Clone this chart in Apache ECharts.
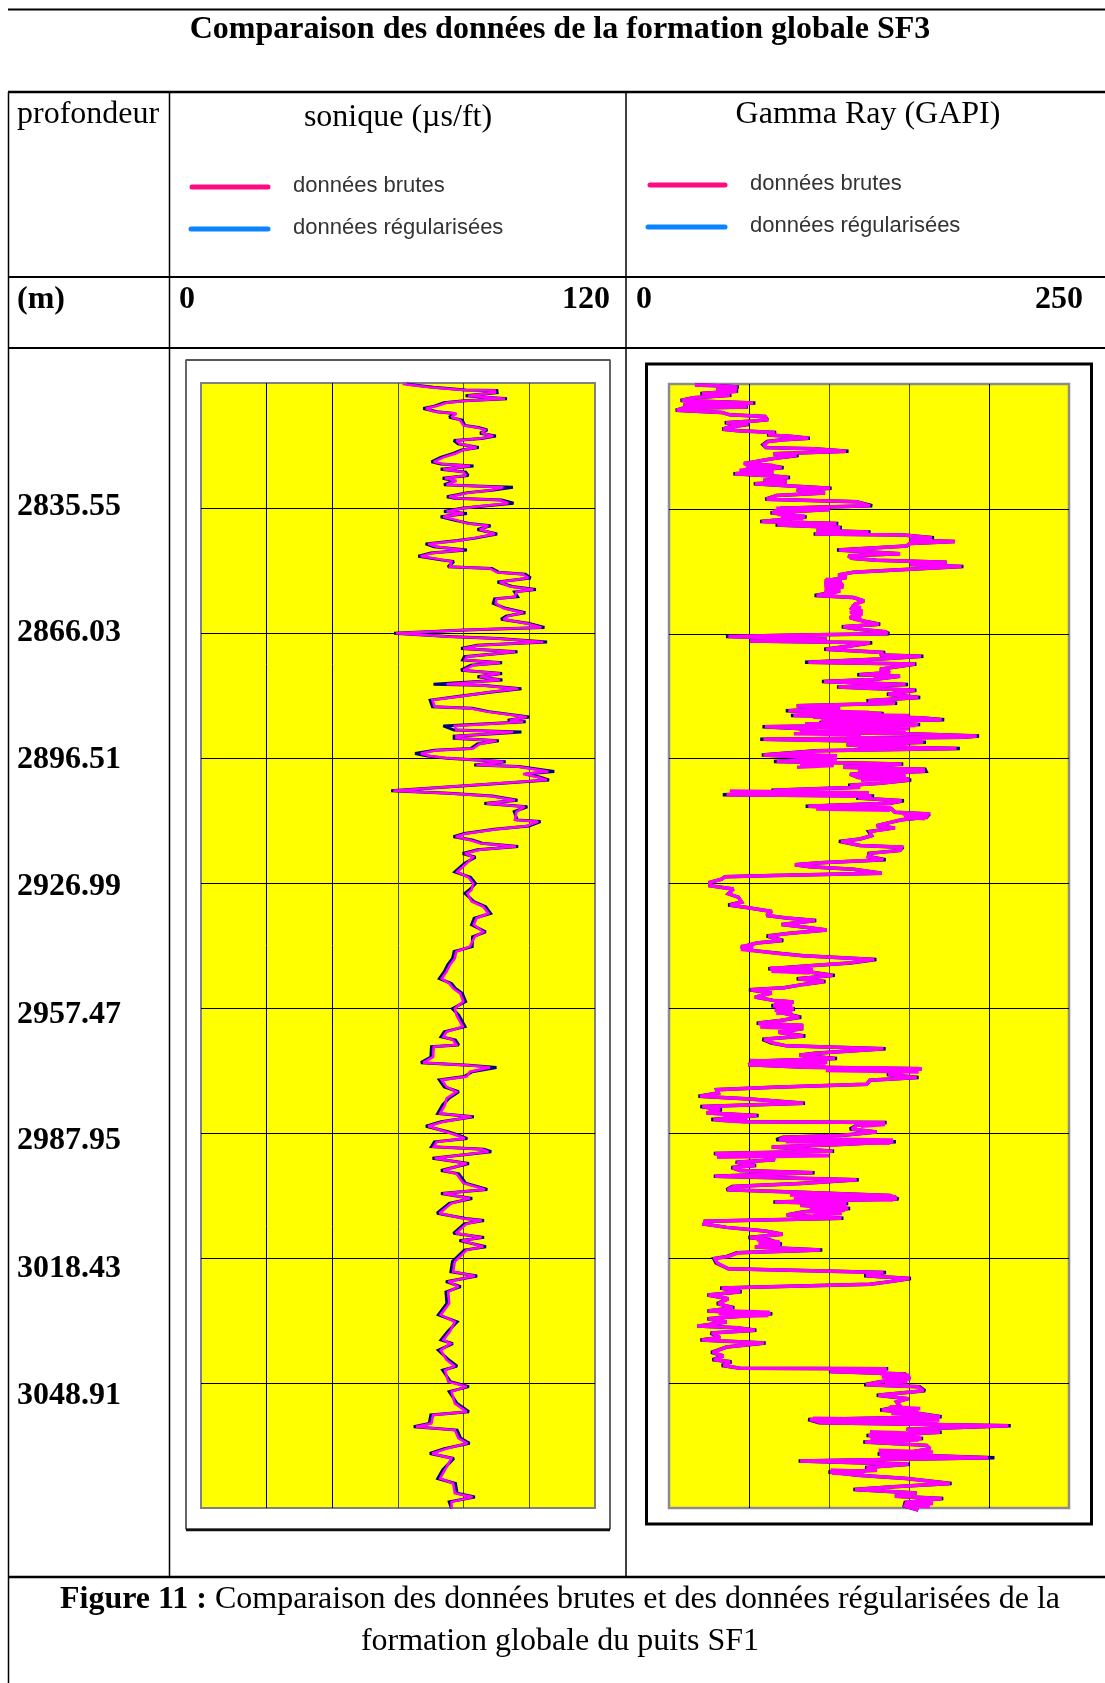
<!DOCTYPE html>
<html><head><meta charset="utf-8">
<style>html,body{margin:0;padding:0;background:#fff}#c{width:1105px;height:1683px}</style>
<script src="https://cdn.jsdelivr.net/npm/echarts@6/dist/echarts.min.js"></script>
</head><body><div id="c"></div>
<script>
const titleText = 'Comparaison des données de la formation globale SF3';
const depthTickLabels = ['2835.55','2866.03','2896.51','2926.99','2957.47','2987.95','3018.43','3048.91'];
const depthMin = 2805.07, depthMax = 3079.39, depthStep = 30.48;
const sonicMax = 120, sonicStep = 20, gammaMax = 250, gammaStep = 50;

const sonicDepth = [
2805.3,2805.6,2806.1,2806.8,2806.9,2807.4,2808.2,2808.9,2809.4,2809.9,
2810.7,2811.3,2812.1,2812.5,2813.4,2814.1,2815.4,2815.9,2816.5,2817.3,
2818.0,2818.6,2819.1,2819.9,2820.8,2821.4,2822.2,2823.2,2824.3,2824.8,
2825.3,2826.1,2826.8,2827.6,2828.3,2828.9,2829.9,2830.2,2830.5,2831.2,
2831.8,2832.8,2833.2,2833.6,2834.4,2835.1,2835.6,2836.4,2836.9,2837.7,
2838.5,2839.3,2839.9,2840.8,2841.9,2842.9,2843.5,2844.3,2845.0,2845.8,
2846.5,2847.3,2848.2,2848.6,2849.9,2850.3,2851.2,2851.7,2852.6,2853.6,
2854.7,2855.4,2856.0,2857.2,2857.7,2858.8,2860.0,2861.1,2861.9,2862.7,
2863.7,2864.7,2865.3,2866.1,2866.9,2867.4,2868.2,2869.0,2869.8,2870.6,
2871.8,2872.6,2873.3,2873.9,2875.1,2875.9,2876.7,2877.5,2878.5,2878.8,
2879.6,2880.4,2881.4,2882.4,2884.0,2884.4,2885.2,2886.5,2887.3,2887.7,
2888.7,2889.7,2890.2,2891.2,2891.7,2892.3,2893.1,2894.2,2894.6,2895.4,
2896.0,2896.6,2897.4,2898.2,2898.6,2899.8,2900.4,2901.2,2901.9,2902.7,
2904.5,2905.1,2905.8,2906.8,2907.6,2908.4,2909.6,2911.6,2912.0,2913.1,
2913.9,2914.9,2915.7,2916.5,2917.3,2918.1,2918.9,2919.8,2920.7,2922.2,
2924.3,2925.6,2927.1,2928.7,2929.5,2931.5,2932.8,2934.4,2935.6,2937.2,
2938.9,2940.1,2942.5,2943.7,2945.4,2947.0,2948.6,2950.3,2951.5,2952.7,
2953.9,2955.9,2957.6,2959.2,2962.0,2963.3,2964.5,2965.3,2966.5,2966.9,
2969.4,2970.8,2971.4,2972.0,2973.0,2974.2,2975.0,2976.7,2977.9,2979.5,
2981.1,2983.2,2984.0,2985.2,2986.3,2987.7,2988.5,2989.3,2990.1,2991.3,
2991.9,2992.5,2994.1,2995.4,2997.1,2997.9,3000.2,3001.7,3002.7,3003.9,
3005.1,3007.5,3008.8,3009.3,3010.1,3012.4,3013.4,3014.2,3015.7,3016.5,
3019.3,3021.8,3022.8,3024.2,3025.4,3026.7,3029.5,3032.3,3034.0,3036.4,
3038.4,3039.3,3040.9,3043.3,3044.8,3045.8,3048.6,3049.8,3051.0,3053.9,
3055.9,3056.7,3058.8,3059.6,3060.4,3062.4,3063.6,3064.9,3066.1,3067.3,
3070.1,3072.2,3073.4,3075.8,3076.7,3077.9,3079.5];
const sonicRaw = [
61.4,64.7,69.7,79.9,89.5,89.5,81.4,92.6,80.9,74.8,
71.8,68.5,71.2,77.8,76.3,78.9,79.9,83.9,86.5,85.5,
89.0,84.9,77.8,78.9,83.9,79.9,77.8,73.8,70.9,73.8,
81.9,73.8,79.9,80.7,74.3,77.8,74.8,82.9,92.1,88.0,
81.9,75.6,77.8,91.0,93.6,84.9,79.9,74.8,79.9,73.8,
77.8,80.9,87.5,84.9,89.5,82.9,78.9,69.2,71.8,79.9,
70.7,66.9,73.8,76.3,75.8,88.0,90.0,98.1,99.7,91.0,
94.1,101.2,96.1,95.6,90.0,89.8,92.1,98.1,93.6,92.1,
99.2,103.7,79.9,59.4,74.8,90.0,104.2,84.9,79.9,95.6,
80.9,80.4,91.0,82.9,79.9,91.0,84.9,91.0,74.8,84.9,
96.6,88.0,79.9,70.5,71.2,81.9,87.0,99.2,94.1,98.1,
77.3,77.8,95.1,77.8,77.8,90.0,84.9,82.9,71.8,67.0,
69.7,75.8,92.1,83.9,96.1,105.8,98.1,102.7,105.3,90.0,
58.6,74.8,88.0,95.6,87.0,98.6,96.1,95.6,102.7,99.2,
90.0,80.9,77.6,81.9,84.9,95.9,84.9,80.4,82.9,80.9,
78.0,81.4,82.9,82.4,81.1,82.4,86.0,87.5,83.9,83.1,
86.0,83.4,81.9,77.8,77.3,75.8,74.8,73.3,75.6,76.8,
78.9,79.9,77.3,77.8,79.7,74.8,73.8,76.8,77.8,70.9,
70.7,67.7,80.9,88.0,81.9,80.9,73.3,74.8,77.8,74.8,
74.3,72.8,82.4,73.8,69.2,74.8,77.8,80.4,71.8,70.9,
85.5,87.5,71.2,80.9,73.8,77.8,79.9,86.5,73.8,81.9,
76.3,72.6,79.9,85.5,80.9,77.6,85.5,79.4,86.0,80.9,
77.3,76.8,83.4,75.3,78.4,75.3,75.6,73.0,77.3,75.8,
73.8,76.0,73.0,74.8,77.3,74.3,75.3,80.9,76.3,77.3,
80.9,70.7,70.2,65.5,77.3,78.4,81.1,74.8,70.4,76.3,
74.3,72.8,76.8,77.3,82.7,76.3,76.3];
const sonicReg = [
62.6,65.5,70.8,80.6,90.1,90.2,80.6,93.2,80.2,74.0,
71.0,67.7,71.9,77.2,75.6,79.5,80.4,84.5,87.2,85.0,
89.8,85.5,77.0,78.3,84.6,79.4,77.0,73.0,70.2,73.0,
83.0,73.0,80.6,81.4,73.6,77.2,74.0,83.5,95.0,88.6,
81.2,74.9,77.2,91.6,95.2,85.5,79.4,74.0,81.0,73.0,
77.0,81.6,88.2,84.2,90.2,83.5,78.2,68.4,71.0,81.0,
70.0,66.2,73.0,77.0,75.2,88.6,90.6,98.8,100.4,90.3,
94.8,102.0,95.5,96.4,89.4,89.0,92.8,98.8,92.9,91.4,
99.9,104.6,80.6,58.8,75.4,90.6,105.4,84.2,79.2,96.4,
80.2,79.7,91.7,82.2,79.2,91.7,84.2,91.8,70.8,85.5,
97.6,88.7,79.2,69.8,70.5,82.6,87.7,100.0,93.4,98.9,
73.8,77.1,97.6,77.1,77.1,90.7,84.2,82.2,71.1,65.2,
69.0,75.1,92.8,83.2,96.8,107.6,98.8,103.4,106.0,90.7,
57.9,75.5,88.7,96.4,86.3,99.4,95.4,96.3,103.4,99.9,
89.3,80.2,76.9,82.6,85.6,96.6,84.2,79.7,83.6,80.2,
77.3,82.1,83.6,81.7,80.4,83.1,86.7,88.2,83.2,82.4,
86.7,82.7,82.6,77.1,76.6,75.1,74.1,72.6,76.3,77.5,
79.6,80.6,76.6,78.5,80.4,74.1,73.1,77.5,78.5,70.2,
70.0,67.0,81.6,90.0,82.6,80.2,72.6,74.1,78.5,75.5,
73.6,72.1,83.1,73.1,68.5,75.5,78.5,81.1,71.1,70.2,
86.2,88.4,70.5,81.6,73.1,78.5,80.6,87.2,73.1,82.6,
75.6,71.9,80.6,86.2,80.2,76.9,86.2,78.7,86.8,80.2,
76.6,76.1,84.1,74.6,79.1,74.6,74.9,72.3,78.0,75.1,
73.1,76.7,72.3,75.5,78.0,73.6,76.0,81.6,75.6,78.0,
81.6,70.0,69.5,64.8,78.0,79.1,81.8,74.1,69.7,77.0,
73.6,72.1,77.5,78.0,83.4,75.6,76.3];

const gammaDepth = [
2805.3,2805.5,2805.8,2806.4,2806.8,2807.4,2807.8,2808.4,2809.1,2809.7,
2810.2,2810.7,2811.0,2811.5,2812.0,2812.6,2813.0,2813.8,2814.1,2814.5,
2814.9,2815.6,2816.1,2816.5,2816.9,2817.5,2817.8,2818.3,2818.7,2819.1,
2819.9,2820.6,2820.9,2821.5,2822.1,2822.5,2823.2,2823.7,2824.5,2825.0,
2825.5,2826.1,2826.6,2827.0,2827.5,2827.9,2828.6,2829.0,2829.4,2829.9,
2830.5,2831.0,2831.7,2832.3,2833.2,2833.8,2834.8,2835.4,2835.7,2836.5,
2837.0,2837.5,2838.2,2838.6,2839.1,2839.5,2840.1,2840.8,2841.2,2841.7,
2841.9,2842.6,2843.2,2843.5,2844.0,2844.6,2845.6,2846.5,2847.0,2847.6,
2848.1,2848.6,2849.1,2849.6,2850.4,2851.0,2851.7,2852.3,2853.1,2854.3,
2855.2,2855.6,2856.7,2857.2,2858.0,2858.8,2859.8,2860.8,2862.1,2862.9,
2863.7,2864.3,2864.9,2865.5,2866.0,2866.3,2866.7,2867.3,2867.8,2868.2,
2869.0,2869.8,2870.6,2871.2,2871.5,2872.2,2873.0,2873.4,2874.1,2874.7,
2875.5,2876.0,2876.4,2877.2,2877.7,2878.4,2879.0,2879.8,2880.8,2881.6,
2882.4,2883.0,2883.6,2884.2,2884.8,2885.5,2886.0,2886.5,2887.0,2887.7,
2888.2,2888.7,2889.4,2890.0,2890.5,2891.0,2891.3,2891.8,2892.5,2893.1,
2893.6,2894.0,2894.6,2895.6,2896.4,2897.2,2897.8,2898.6,2899.1,
2899.6,2900.3,2901.1,2901.7,2902.5,2903.0,2903.5,2904.2,2904.7,2905.3,
2905.6,2906.1,2906.8,2907.4,2908.1,2908.8,2909.6,2910.0,2910.8,2911.4,
2912.0,2912.9,2913.4,2914.3,2915.3,2916.1,2916.7,2917.7,2918.1,2918.9,
2919.6,2920.4,2921.2,2921.9,2922.4,2922.9,2923.5,2924.5,2925.0,2925.3,
2925.9,2926.7,2927.5,2928.3,2929.5,2930.3,2931.5,2932.2,2932.9,2933.8,
2934.8,2935.4,2936.0,2937.0,2937.6,2938.3,2939.1,2939.8,2940.9,2941.5,
2942.5,2943.3,2944.0,2944.6,2945.5,2946.4,2947.0,2947.8,2948.7,2949.4,
2950.2,2950.9,2951.6,2952.4,2952.9,2953.7,2954.7,2955.5,2955.9,2956.8,
2957.6,2958.4,2959.6,2960.4,2961.1,2961.6,2962.4,2963.3,2964.2,2965.0,
2965.9,2966.6,2967.3,2968.4,2968.9,2969.7,2970.3,2971.2,2971.8,2972.2,
2973.0,2973.6,2974.3,2975.0,2976.0,2976.7,2977.3,2978.1,2978.9,2979.6,
2980.6,2981.4,2982.2,2983.0,2983.6,2984.6,2985.1,2985.3,2986.0,2986.9,
2987.6,2988.5,2988.9,2989.5,2990.0,2990.7,2991.3,
2992.3,2992.9,2993.6,2994.4,2995.0,2995.8,2996.3,2997.0,2997.6,2998.4,
2999.3,3000.2,3000.9,3001.7,3002.3,3003.1,3004.0,3004.7,3005.1,3005.5,
3006.3,3007.1,3007.9,3008.7,3009.4,3010.1,3010.9,3011.8,3012.6,3013.4,
3014.0,3015.0,3015.7,3016.4,3017.1,3018.0,3018.5,3019.6,3021.0,3021.9,
3022.7,3023.4,3024.2,3024.8,3025.7,3026.6,3027.4,3028.3,3029.5,3030.5,
3031.3,3032.0,3033.2,3034.0,3035.0,3035.4,3036.0,3036.7,3037.8,3038.4,
3039.1,3040.1,3041.4,3042.3,3043.2,3043.7,3044.6,3045.3,3045.4,3046.1,
3046.7,3047.8,3048.6,3049.3,3049.8,3050.8,3051.9,3052.7,3053.5,3054.5,
3055.5,3056.3,3057.1,3057.8,3058.6,3059.3,3060.2,3060.9,3061.7,3062.4,
3063.3,3064.1,3064.9,3065.7,3066.2,3067.1,3067.9,3068.7,3069.5,3070.2,
3070.6,3071.4,3072.2,3073.4,3074.2,3074.9,3075.7,3076.5,3077.1,3078.0,
3078.9,3079.9];
const gammaRaw = [
16.2,30.8,42.7,29.8,42.3,20.6,38.1,15.2,7.9,52.7,
9.0,48.5,8.5,4.8,32.9,38.1,60.0,61.0,52.7,35.6,
49.6,37.1,34.0,43.3,66.2,62.1,75.6,87.1,71.4,62.1,
59.4,60.6,90.2,110.6,65.2,79.8,66.2,59.0,46.9,64.2,
70.4,46.5,65.2,41.2,65.2,74.6,59.0,73.5,53.7,73.5,
100.6,79.8,97.5,67.3,61.0,117.3,125.6,69.4,100.6,64.2,
74.6,85.0,69.4,57.9,104.8,67.7,106.9,92.3,124.6,91.3,
146.4,164.2,150.6,178.7,150.6,148.5,106.2,144.4,112.1,114.2,
129.8,173.5,150.6,182.9,144.4,115.2,105.8,111.0,97.5,108.9,
97.5,106.9,92.3,115.2,121.9,116.2,114.2,120.4,113.1,121.4,
131.0,108.9,118.3,135.0,136.4,81.9,37.1,98.5,50.6,125.6,
113.1,98.1,133.9,131.9,157.5,131.9,87.1,153.7,142.3,131.9,
138.1,119.0,144.4,127.7,96.9,147.9,105.8,153.7,137.1,155.8,
124.6,141.2,79.8,106.9,74.6,132.9,77.7,156.9,170.4,95.4,
155.8,60.0,92.3,81.9,154.8,192.3,184.0,59.0,158.9,111.0,
127.7,179.7,93.3,59.0,100.6,67.3,145.4,108.9,158.9,
158.9,113.1,118.3,150.2,131.9,113.1,119.4,65.2,75.2,36.0,
126.6,118.3,145.4,138.1,87.1,139.1,141.2,162.0,161.0,145.4,
139.1,129.8,141.2,125.6,126.6,119.4,107.5,119.4,145.4,144.4,
125.6,124.6,134.0,94.4,78.7,88.1,115.2,132.9,65.2,35.0,
32.9,25.6,25.6,40.2,37.1,43.3,45.4,38.1,49.6,64.2,
61.0,73.5,91.3,70.4,84.0,98.5,75.6,62.1,70.4,54.8,
45.0,51.6,67.3,84.0,128.3,112.1,90.2,63.1,90.2,102.3,
80.8,96.9,84.0,71.9,51.0,64.2,53.7,65.2,76.6,65.2,
77.7,69.4,81.4,69.4,55.8,82.9,82.9,68.3,84.0,59.4,
65.2,73.5,134.0,92.3,81.4,103.7,56.9,49.6,86.0,157.9,
144.4,137.1,154.8,125.6,123.5,65.2,29.8,30.8,19.4,50.6,
84.0,20.8,31.9,23.5,54.8,27.7,49.6,135.0,117.3,114.2,
129.8,106.9,71.4,69.0,140.2,106.9,64.2,
102.3,28.7,60.6,66.2,42.3,53.7,39.8,44.4,89.8,28.7,
117.3,81.9,40.2,36.6,81.9,138.1,142.3,66.2,111.0,81.9,
112.1,85.0,73.5,107.9,22.5,21.9,36.0,60.0,71.0,50.6,
62.1,69.4,53.7,94.4,43.3,37.1,28.7,30.2,37.1,134.0,
123.1,150.2,137.1,125.6,32.9,44.4,24.6,37.1,30.8,39.8,
24.6,63.5,24.6,36.0,17.7,42.3,53.7,26.7,31.9,20.4,
59.4,36.0,27.3,34.0,28.1,38.1,34.0,44.4,136.0,100.6,
146.4,150.6,131.9,123.1,155.8,159.0,130.8,149.6,142.3,144.4,
133.0,155.8,169.4,88.1,95.4,212.1,148.5,169.4,124.6,157.9,
122.5,161.0,163.1,151.6,131.4,199.5,81.9,149.6,123.5,129.8,
100.6,118.3,148.5,175.6,140.2,116.2,154.8,141.2,170.4,148.5,
147.5,155.8];
const gammaReg = [
16.2,30.8,43.6,29.8,43.2,19.6,39.0,15.2,7.2,54.0,
9.0,49.4,8.5,4.2,32.9,38.1,60.0,61.6,52.7,34.8,
50.4,37.1,33.4,43.3,66.9,61.4,75.6,88.0,71.4,61.4,
58.7,60.6,90.2,112.2,65.2,81.0,66.2,59.0,46.9,64.2,
71.6,46.0,65.2,40.2,65.2,75.6,59.0,73.5,53.0,73.5,
101.6,79.8,97.5,67.3,60.2,117.3,127.0,69.4,100.6,63.4,
74.6,86.0,69.4,57.0,105.8,66.6,108.0,92.3,126.0,90.4,
146.4,165.6,150.6,178.7,150.6,148.5,105.0,144.4,112.1,114.2,
129.8,173.5,150.6,184.0,144.4,115.2,105.8,111.0,97.5,108.9,
97.5,106.9,91.0,115.2,121.9,116.2,114.2,120.4,113.1,121.4,
132.0,108.0,118.3,135.0,137.6,81.9,35.6,98.5,50.6,127.0,
113.1,97.0,135.0,131.9,159.0,131.9,85.0,154.6,142.3,131.9,
138.1,117.6,144.4,127.7,95.6,149.4,105.0,154.6,136.2,157.0,
123.4,142.6,79.8,106.9,73.0,134.2,76.2,156.9,172.0,94.0,
157.0,58.4,92.3,81.9,154.8,193.8,184.0,57.0,160.6,111.0,
127.7,181.8,91.6,58.0,100.6,65.6,146.4,108.9,160.0,
160.6,113.1,118.3,151.4,131.9,112.0,119.4,64.0,76.6,33.6,
128.2,117.0,146.8,138.1,85.4,139.1,141.2,162.8,161.0,145.4,
139.1,129.8,141.2,124.8,126.6,119.4,106.2,119.4,146.2,144.4,
125.0,124.6,135.4,94.4,78.7,88.1,115.2,132.9,65.2,35.0,
32.9,25.6,25.6,40.2,37.1,43.3,45.4,37.0,49.6,64.2,
61.0,73.5,92.0,70.4,84.0,98.5,75.6,61.0,71.4,54.8,
45.0,51.6,68.4,84.0,129.6,113.4,90.2,62.0,90.2,103.6,
79.8,97.8,84.0,71.9,50.0,64.2,53.7,65.2,77.8,64.0,
78.6,69.4,82.6,69.4,54.8,82.9,82.9,68.3,85.2,58.4,
64.0,73.5,135.4,91.0,81.4,105.0,55.6,49.6,86.0,157.9,
144.4,136.2,156.0,125.6,123.5,65.2,29.8,30.8,18.4,50.6,
85.0,19.6,33.0,23.5,56.0,26.4,49.6,136.0,117.3,113.0,
129.8,106.9,71.4,67.0,141.8,106.9,64.2,
103.2,28.0,60.6,66.2,41.6,54.4,39.0,44.4,91.0,28.0,
118.6,81.9,39.4,36.0,81.9,138.1,143.4,65.2,112.0,81.9,
113.2,84.2,73.5,109.0,22.5,21.9,36.0,60.0,71.0,49.6,
63.2,70.4,53.7,95.8,42.4,36.2,28.0,29.4,37.1,135.6,
122.0,151.2,137.1,125.6,32.0,45.4,24.0,37.1,30.0,40.8,
24.0,64.6,24.0,36.0,17.7,42.3,54.6,26.0,31.9,19.6,
60.4,36.0,26.4,34.0,27.2,39.0,33.0,44.4,137.0,100.0,
147.4,150.6,131.9,122.0,156.6,160.0,129.8,149.6,142.3,144.4,
132.0,156.6,170.4,87.0,93.8,213.6,148.5,170.4,123.4,158.8,
121.4,161.0,163.1,151.6,130.4,203.4,81.0,150.6,122.6,129.8,
99.6,118.3,148.5,176.6,140.2,115.2,154.8,141.2,171.4,147.6,
147.0,155.8];

// Fine back-and-forth passes of the raw gamma trace where it reads as a solid band.
const gammaBandDepth = [
2805.7,2806.1,2806.5,2806.9,2807.2,null,
2809.6,2809.9,2810.2,2810.6,2810.9,null,
2824.5,2824.9,2825.3,2825.7,2826.1,2826.5,2826.9,2827.2,null,
2835.3,2835.7,2836.1,2836.5,2836.9,2837.3,2837.7,2838.0,null,
2852.7,2853.1,2853.5,2853.9,2854.3,2854.7,2855.1,2855.5,2855.9,2856.3,null,
2859.2,2859.6,2860.0,2860.4,2860.8,2861.2,2861.6,2862.0,2862.4,2862.8,null,
2884.8,2885.2,2885.6,2886.0,2886.4,2886.8,2887.2,2887.6,2888.0,2888.4,2888.8,2889.2,2889.6,2890.0,2890.4,2890.7,null,
2891.4,2891.8,2892.2,2892.6,2893.0,2893.4,2893.8,null,
2895.4,2895.8,2896.2,2896.6,2897.0,2897.4,2897.8,2898.2,2898.6,null,
2899.4,2899.8,2900.2,2900.6,2901.0,2901.4,2901.8,null,
2904.4,2904.8,2905.2,2905.6,null,
2908.0,2908.4,2908.8,2909.1,null,
2910.0,2910.4,2910.8,2911.2,null,
2942.2,2942.6,2943.0,2943.4,null,
2947.6,2948.0,2948.4,2948.8,null,
2955.5,2955.9,2956.3,2956.7,2957.1,2957.5,2957.9,2958.3,2958.7,null,
2961.2,2961.6,2962.0,2962.4,null,
2970.2,2970.6,2971.0,2971.4,null,
2971.8,2972.2,2972.6,2973.0,null,
2983.2,2983.6,2984.0,2984.4,2984.8,2985.2,null,
2985.4,2985.8,2986.2,null,
2989.2,2989.6,2990.0,2990.4,null,
2993.0,2993.4,2993.8,null,
3003.0,3003.4,3003.8,3004.2,null,
3005.5,3005.9,3006.3,3006.7,3007.1,3007.5,3007.9,null,
3014.0,3014.4,3014.8,3015.2,3015.6,3016.0,null,
3031.2,3031.6,3032.0,3032.4,3032.8,null,
3045.4,3045.8,3046.1,null,
3046.6,3047.0,3047.4,3047.8,3048.2,3048.6,3049.0,null,
3054.7,3055.1,3055.5,3055.9,3056.3,3056.7,null,
3057.5,3057.9,3058.3,3058.7,null,
3060.8,3061.2,3061.6,3062.0,3062.4,3062.8,3063.2,null,
3065.3,3065.7,3066.1,3066.5,3066.9,null,
3070.1,3070.5,3070.9,3071.1,null,
3077.9,3078.3,3078.7,3079.1];
const gammaBandRaw = [
31,42,30,42,32,null,
10,50,12,49,9,null,
46.5,65,48,67,44,65,42,63,null,
67,74.6,65,75,68,85,70,84,null,
98,108,97,108.9,97,109,98,107,97,104,null,
114,120,114,121,113,121,114,120,115,121,null,
85,125,80,150,90,152,95,150,85,154,82,150,92,148,78,120,null,
111,158,115,150,112,148,118,null,
78,105,80,105,76,104,82,103,80,null,
118,150,120,148,122,150,120,null,
38,125,40,124,null,
90,139,92,138,null,
146,161,147,160,null,
45,52.7,45,52,null,
63,90,64,88,null,
66,77.7,66,77,67,78,66,77,67,null,
56,83,57,82,null,
50.6,99,52,98,null,
96,158,98,156,null,
33,49.6,34,49,33,48,null,
118,135,120,null,
71,140,73,138,null,
29,100,30,null,
75.6,142,78,140,null,
86,111,88,110,87,108,90,null,
55,69,56,68,55,66,null,
30,63,31,62,32,null,
100.6,136,102,null,
131.9,150.6,133,150,134,149,135,null,
138,157,140,156,139,155,null,
90,169,92,168,null,
125.6,158,127,157,126,156,128,null,
131,165,133,164,132,null,
101,123,102,122,null,
148,165,149,163];

const tickLabelY = [507,633,760,887,1015,1141,1269,1396];
function points(depths, vals){ return depths.map((d,i)=>[vals[i], d]); }
function traceSeries(name, idx, depths, vals, color, width, z){
  return {name, type:'line', xAxisIndex:idx, yAxisIndex:idx, data:points(depths, vals),
    showSymbol:false, symbol:'none', clip:false, z, connectNulls:false,
    lineStyle:{color, width, cap:'butt', join:'miter', miterLimit:2}, silent:true, animation:false};
}
function txt(text, x, y, size, opt){
  opt = opt||{};
  return {type:'text', silent:true, z:50, style:{text, x, y, fill:opt.fill||'#000',
    font:(opt.bold?'bold ':'')+size+'px '+(opt.family||'"Liberation Serif"'),
    textAlign:opt.align||'left', textVerticalAlign:'middle', rich:opt.rich}};
}
function seg(x1,y1,x2,y2,w,c,cap){
  return {type:'line', silent:true, z:10, shape:{x1,y1,x2,y2}, style:{stroke:c||'#000', lineWidth:w||2, lineCap:cap||'butt'}};
}
const SANS='"Liberation Sans"';
const graphics = [
  seg(8,9.5,1105,9.5,2),
  seg(8,92,1105,92,2.5), seg(8,277,1105,277,2), seg(8,348,1105,348,2), seg(8,1577,1105,1577,2.5),
  seg(8.5,92,8.5,1683,1.5), seg(169.5,92,169.5,1577,1.5), seg(626,92,626,1577,1.5),
  {type:'rect', silent:true, z:11, shape:{x:186,y:360,width:424,height:1169}, style:{fill:'#fff',stroke:'#000',lineWidth:1.2}},
  {type:'line', silent:true, z:12, shape:{x1:186,y1:360,x2:610,y2:360}, style:{stroke:'#555',lineWidth:2}},
  {type:'line', silent:true, z:12, shape:{x1:186,y1:1530,x2:610,y2:1530}, style:{stroke:'#111',lineWidth:2.5}},
  {type:'rect', silent:true, z:11, shape:{x:646.5,y:364,width:445,height:1160}, style:{fill:'#fff',stroke:'#000',lineWidth:3}},
  txt(titleText, 560, 30, 32, {bold:true, align:'center'}),
  txt('profondeur', 17, 115, 32),
  txt('sonique (µs/ft)', 398, 118, 32, {align:'center'}),
  txt('Gamma Ray (GAPI)', 868, 115, 32, {align:'center'}),
  seg(192,187,268,187,5,'#ff0a80','round'), seg(191,229,268,229,5,'#0a84ff','round'),
  txt('données brutes', 293, 186, 22, {family:SANS, fill:'#333'}),
  txt('données régularisées', 293, 228, 22, {family:SANS, fill:'#333'}),
  seg(650,185,725,185,5,'#ff0a80','round'), seg(648,227,725,227,5,'#0a84ff','round'),
  txt('données brutes', 750, 184, 22, {family:SANS, fill:'#333'}),
  txt('données régularisées', 750, 226, 22, {family:SANS, fill:'#333'}),
  txt('(m)', 17, 300, 32, {bold:true}),
  txt('0', 179, 300, 32, {bold:true}),
  txt(String(sonicMax), 610, 300, 32, {bold:true, align:'right'}),
  txt('0', 636, 300, 32, {bold:true}),
  txt(String(gammaMax), 1083, 300, 32, {bold:true, align:'right'}),
  ...depthTickLabels.map((t,i)=>txt(t, 17, tickLabelY[i], 32, {bold:true})),
  txt('{b|Figure 11 :} Comparaison des données brutes et des données régularisées de la', 560, 1600, 32,
      {align:'center', rich:{b:{font:'bold 32px "Liberation Serif"'}}}),
  txt('formation globale du puits SF1', 560, 1642, 32, {align:'center'})
];
function yAxisOpt(gridIndex){
  return {type:'value', gridIndex, inverse:true, min:depthMin, max:depthMax, interval:depthStep, z:25,
    axisLine:{show:false}, axisTick:{show:false}, axisLabel:{show:false},
    splitLine:{show:true, showMinLine:false, showMaxLine:false, lineStyle:{color:'#000', width:1}}};
}
function xAxisOpt(gridIndex, max, interval, colors){
  return {type:'value', gridIndex, min:0, max, interval, z:25,
    axisLine:{show:false}, axisTick:{show:false}, axisLabel:{show:false},
    splitLine:{show:true, showMinLine:false, showMaxLine:false, lineStyle:{color:colors, width:1}}};
}
const chart = echarts.init(document.getElementById('c'), null, {width:1105, height:1683});
chart.setOption({
  animation:false, backgroundColor:'#fff',
  grid:[
    {left:201, top:383, width:394, height:1125, show:true, backgroundColor:'#ffff00', borderColor:'#808080', borderWidth:2, z:20},
    {left:669, top:384, width:400, height:1124, show:true, backgroundColor:'#ffff00', borderColor:'#8c8c8c', borderWidth:2.5, z:20}
  ],
  xAxis:[
    xAxisOpt(0, sonicMax, sonicStep, ['#000','#000','#4d4d00','#4d4d00','#4d4d00']),
    xAxisOpt(1, gammaMax, gammaStep, ['#000','#4d4d00','#4d4d00','#000'])
  ],
  yAxis:[yAxisOpt(0), yAxisOpt(1)],
  series:[
    traceSeries('données régularisées', 0, sonicDepth, sonicReg, '#000080', 3, 30),
    traceSeries('données brutes', 0, sonicDepth, sonicRaw, '#ff00ff', 2.5, 31),
    traceSeries('données régularisées', 1, gammaDepth, gammaReg, '#000080', 3.5, 30),
    traceSeries('données brutes', 1, gammaDepth, gammaRaw, '#ff00ff', 3.5, 31),
    traceSeries('données brutes', 1, gammaBandDepth, gammaBandRaw, '#ff00ff', 3.5, 32)
  ],
  graphic:{elements:graphics}
});
</script></body></html>
